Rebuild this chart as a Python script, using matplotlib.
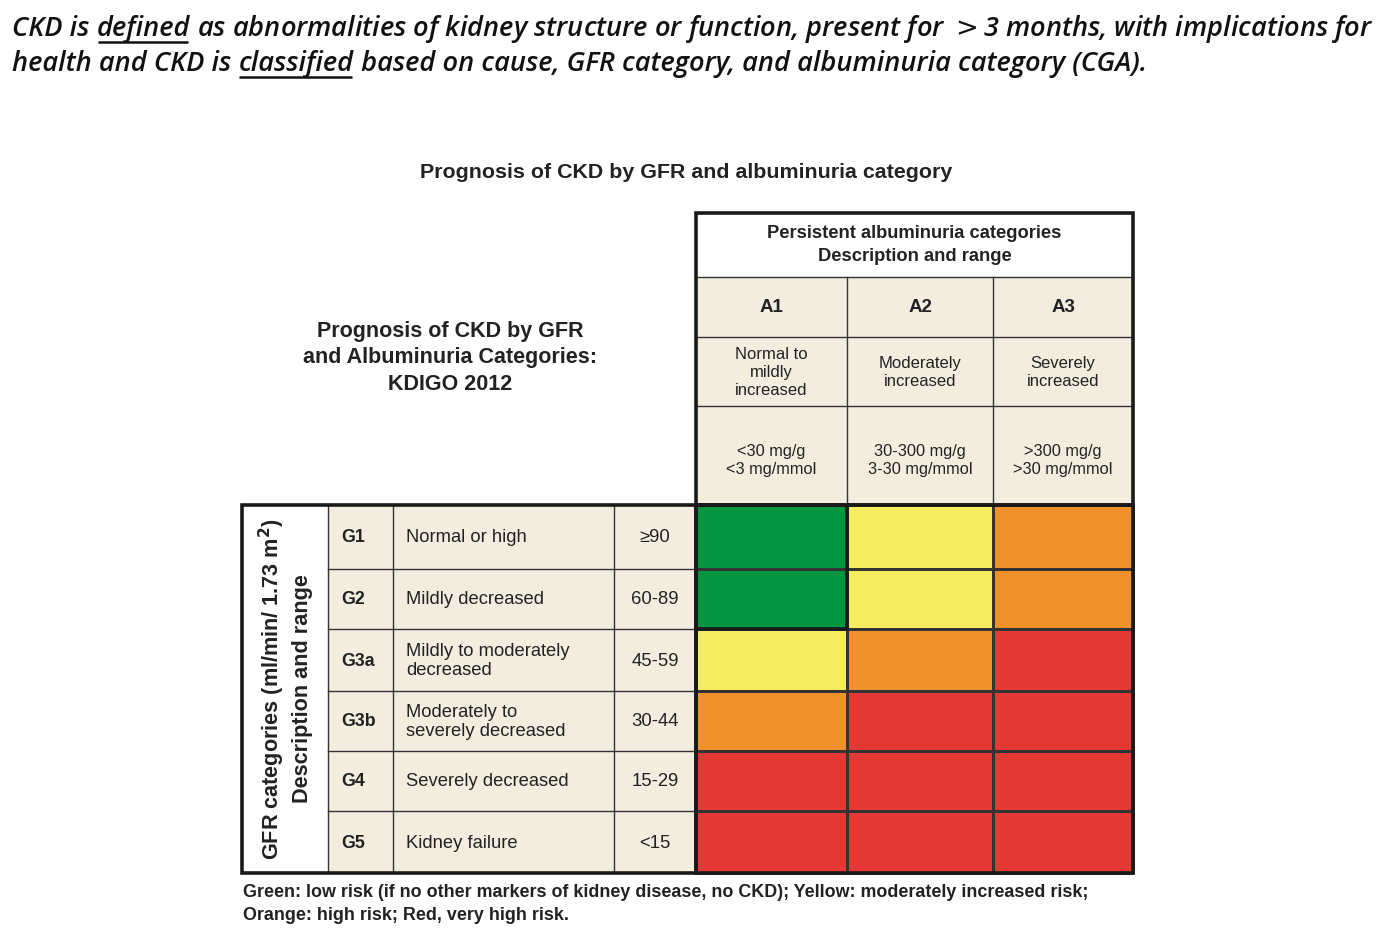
import numpy as np
import matplotlib.pyplot as plt
from matplotlib.colors import ListedColormap
from matplotlib.patches import Rectangle

# ---- data ----
gfr_codes = ["G1", "G2", "G3a", "G3b", "G4", "G5"]
gfr_desc = ["Normal or high", "Mildly decreased", "Mildly to moderately\ndecreased",
            "Moderately to\nseverely decreased", "Severely decreased", "Kidney failure"]
gfr_range = ["\u226590", "60-89", "45-59", "30-44", "15-29", "<15"]
alb_codes = ["A1", "A2", "A3"]
alb_desc = ["Normal to\nmildly\nincreased", "Moderately\nincreased", "Severely\nincreased"]
alb_range = ["<30 mg/g\n<3 mg/mmol", "30-300 mg/g\n3-30 mg/mmol", ">300 mg/g\n>30 mg/mmol"]
# 0 green, 1 yellow, 2 orange, 3 red
risk = np.array([[0, 1, 2],
                 [0, 1, 2],
                 [1, 2, 3],
                 [2, 3, 3],
                 [3, 3, 3],
                 [3, 3, 3]])
risk_colors = ["#009640", "#F5EC5F", "#F0912B", "#E33834"]

# ---- layout (pixels) ----
W, H = 1379, 932
beige = "#F2EDDF"
dark = "#1a1a1a"
txt = "#222222"
x_left = [242, 328, 393, 614, 696]          # left table column edges
x_right = [696, 847, 993, 1133]             # albuminuria column edges
y_rows = [505, 569, 629, 691, 751, 811, 873]
y_head = [213, 277, 337, 406, 505]

fig = plt.figure(figsize=(W / 100, H / 100), dpi=100)
ax = fig.add_axes([0, 0, 1, 1])
ax.set_xlim(0, W)
ax.set_ylim(H, 0)
ax.axis("off")

sans = "Liberation Sans"

# ---- top sentence (italic, with underlines) ----
line1 = ["CKD is ", "defined", " as abnormalities of kidney structure or function, present for $>$3 months, with implications for"]
line2 = ["health and CKD is ", "classified", " based on cause, GFR category, and albuminuria category (CGA)."]
fig.canvas.draw()
renderer = fig.canvas.get_renderer()
inv = ax.transData.inverted()
for parts, yb in [(line1, 36), (line2, 71)]:
    x = 12
    for k, p in enumerate(parts):
        t = ax.text(x, yb, p, fontsize=19.6, family="Open Sans", style="italic",
                    weight="semibold", ha="left", va="baseline", color="#111111")
        bb = t.get_window_extent(renderer)
        (x0, _), (x1, _) = inv.transform([[bb.x0, 0], [bb.x1, 0]])
        if k == 1:
            ax.plot([x0 + 1, x1 - 2], [yb + 6, yb + 6], color="#111111", lw=1.8,
                    solid_capstyle="butt")
        x = x1

# ---- titles ----
ax.text(686, 172, "Prognosis of CKD by GFR and albuminuria category", fontsize=15.4,
        weight="bold", family=sans, ha="center", va="center", color=txt)
ax.text(450, 358, "Prognosis of CKD by GFR\nand Albuminuria Categories:\nKDIGO 2012",
        fontsize=15.5, weight="bold", family=sans, ha="center", va="center",
        linespacing=1.35, color=txt)

# ---- header block ----
ax.add_patch(Rectangle((x_right[0], y_head[0]), x_right[-1] - x_right[0],
                       y_head[1] - y_head[0], facecolor="white", edgecolor="none"))
ax.add_patch(Rectangle((x_right[0], y_head[1]), x_right[-1] - x_right[0],
                       y_head[-1] - y_head[1], facecolor=beige, edgecolor="none"))
ax.text((x_right[0] + x_right[-1]) / 2, (y_head[0] + y_head[1]) / 2,
        "Persistent albuminuria categories\nDescription and range", fontsize=13.2,
        weight="bold", family=sans, ha="center", va="center", linespacing=1.4,
        color=txt)
for j in range(3):
    cx = (x_right[j] + x_right[j + 1]) / 2
    ax.text(cx, (y_head[1] + y_head[2]) / 2 + 1, alb_codes[j], fontsize=13.5, weight="bold",
            family=sans, ha="center", va="center", color=txt)
    ax.text(cx, (y_head[2] + y_head[3]) / 2 + 1, alb_desc[j], fontsize=12, family=sans,
            ha="center", va="center", linespacing=1.28, color=txt)
    ax.text(cx, (y_head[3] + y_head[4]) / 2 + 5, alb_range[j], fontsize=11.8, family=sans,
            ha="center", va="center", linespacing=1.33, color=txt)
for yy in y_head[1:-1]:
    ax.plot([x_right[0], x_right[-1]], [yy, yy], color="#333333", lw=1)
for xx in x_right[1:-1]:
    ax.plot([xx, xx], [y_head[1], y_head[-1]], color="#333333", lw=1)

# ---- left table ----
ax.add_patch(Rectangle((x_left[1], y_rows[0]), x_left[-1] - x_left[1],
                       y_rows[-1] - y_rows[0], facecolor=beige, edgecolor="none"))
for i in range(len(gfr_codes)):
    cy = (y_rows[i] + y_rows[i + 1]) / 2 + 1
    ax.text(x_left[1] + 13, cy, gfr_codes[i], fontsize=12.8, weight="bold", family=sans,
            ha="left", va="center", color=txt)
    ax.text(x_left[2] + 13, cy, gfr_desc[i], fontsize=13.2, family=sans, ha="left",
            va="center", linespacing=1.2, color=txt)
    ax.text((x_left[3] + x_left[4]) / 2, cy, gfr_range[i], fontsize=13.3, family=sans,
            ha="center", va="center", color=txt)
for yy in y_rows[1:-1]:
    ax.plot([x_left[1], x_left[-1]], [yy, yy], color="#333333", lw=1)
for xx in x_left[1:-1]:
    ax.plot([xx, xx], [y_rows[0], y_rows[-1]], color="#333333", lw=1)
ax.text((x_left[0] + x_left[1]) / 2, (y_rows[0] + y_rows[-1]) / 2,
        "GFR categories (ml/min/ 1.73 m$^\\mathbf{2}$)\nDescription and range",
        fontsize=15.6, weight="bold", family=sans, rotation=90, ha="center",
        va="center", linespacing=1.3, color=txt)

# ---- risk grid ----
ax.pcolormesh(x_right, y_rows, risk, cmap=ListedColormap(risk_colors), vmin=-0.5,
              vmax=3.5, edgecolors="#333333", linewidth=0.8)

# ---- thick borders ----
lw_thick = 2.6
for (x0, x1, y0, y1) in [(x_right[0], x_right[-1], y_head[0], y_head[-1]),
                         (x_left[0], x_left[-1], y_rows[0], y_rows[-1]),
                         (x_right[0], x_right[-1], y_rows[0], y_rows[-1]),
                         (x_right[0], x_right[1], y_rows[0], y_rows[2])]:
    ax.add_patch(Rectangle((x0, y0), x1 - x0, y1 - y0, facecolor="none",
                           edgecolor=dark, lw=lw_thick, zorder=5))

# ---- footer ----
ax.text(243, 904, "Green: low risk (if no other markers of kidney disease, no CKD); "
        "Yellow: moderately increased risk;\nOrange: high risk; Red, very high risk.",
        fontsize=12.9, weight="bold", family=sans, ha="left", va="center",
        linespacing=1.4, color=txt)

fig.savefig("out.png", dpi=100, facecolor="white")
